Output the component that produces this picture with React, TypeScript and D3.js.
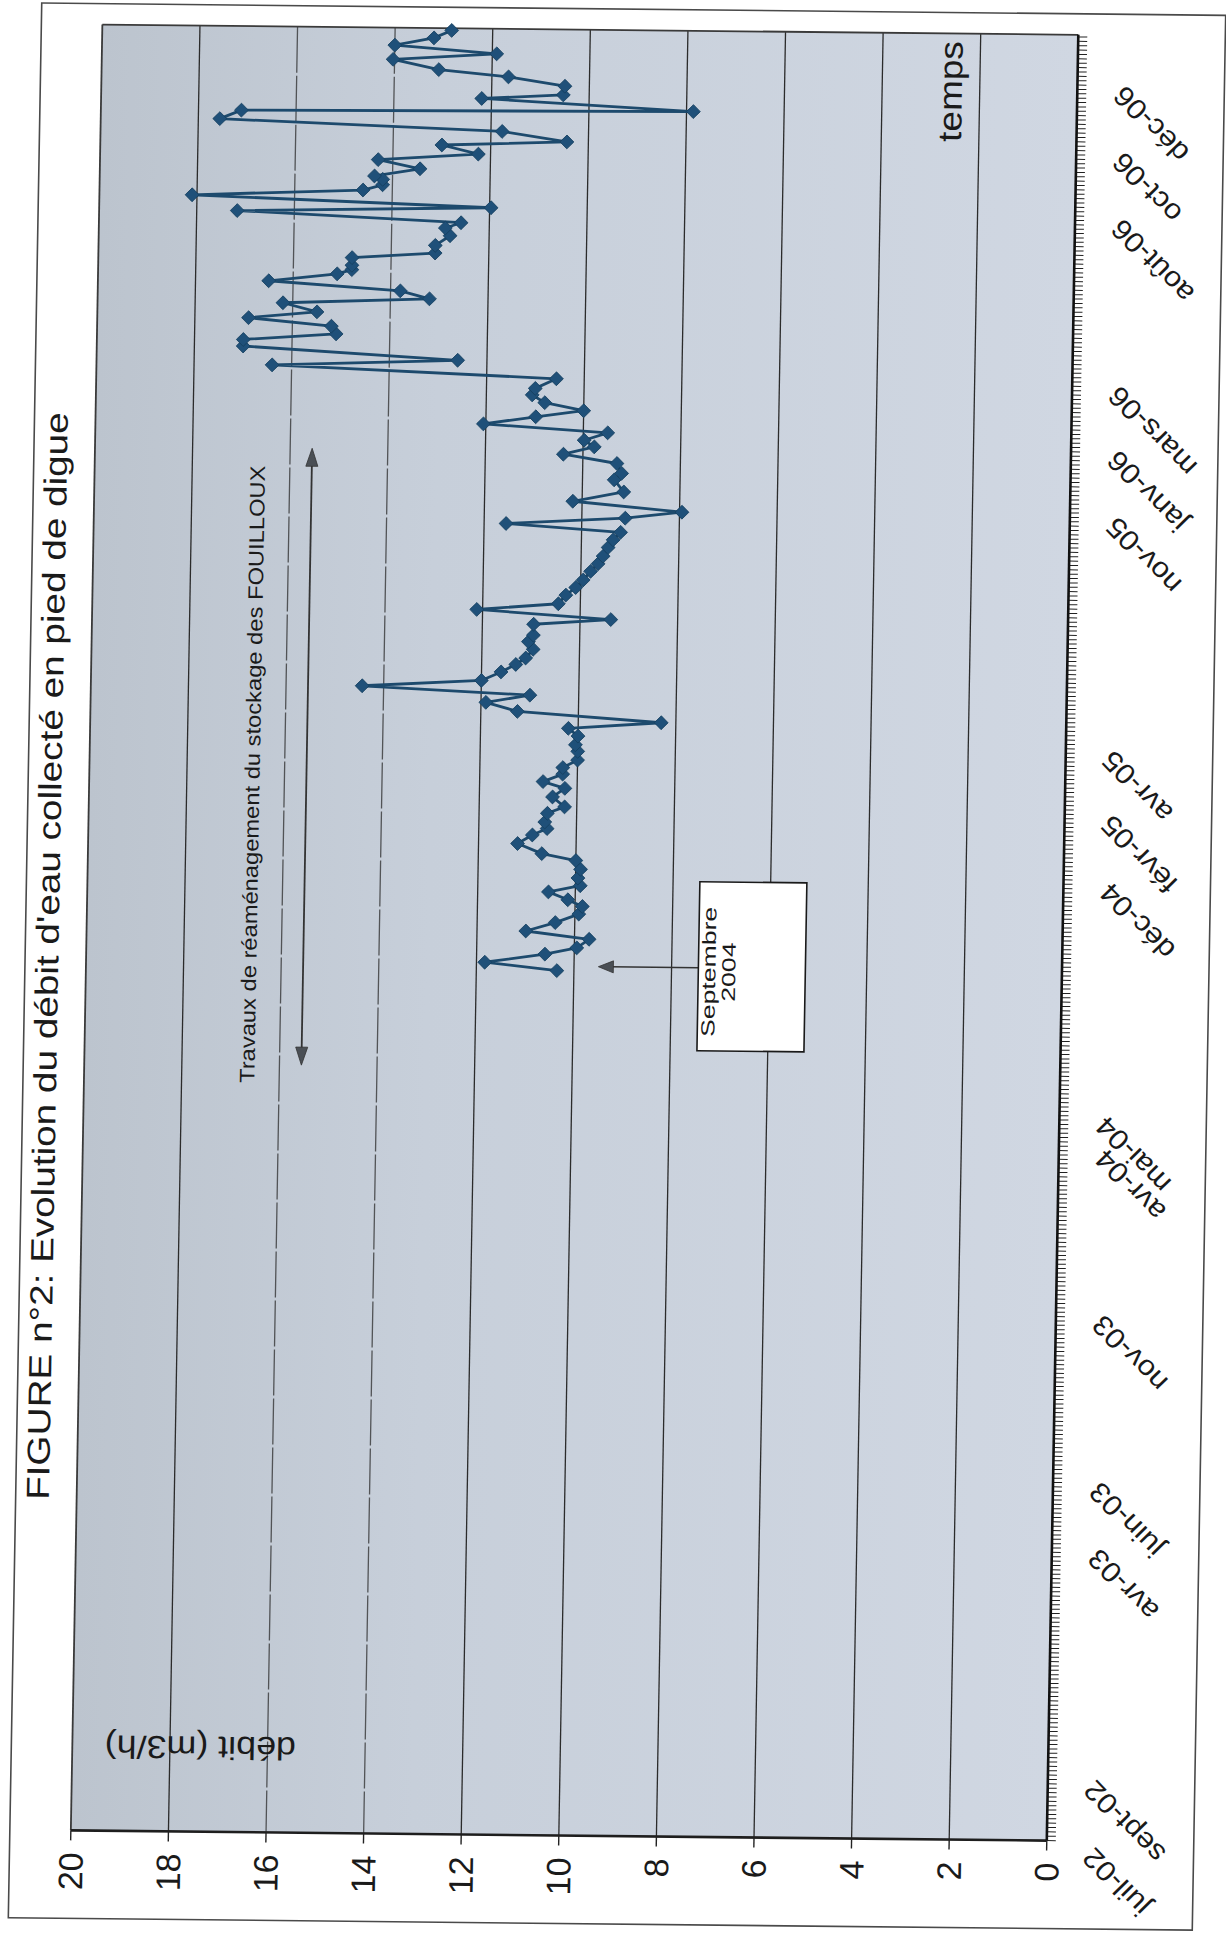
import React, { useRef, useEffect } from "react";
import * as d3 from "d3";

// weekly readings
const measureDates = [
  "2004-08-31", "2004-09-07", "2004-09-15", "2004-09-21", "2004-09-29", "2004-10-06", "2004-10-14", "2004-10-22",
  "2004-10-29", "2004-11-04", "2004-11-11", "2004-11-17", "2004-11-24", "2004-12-02", "2004-12-10", "2004-12-16",
  "2004-12-25", "2005-01-02", "2005-01-08", "2005-01-14", "2005-01-22", "2005-01-28", "2005-02-06", "2005-02-14",
  "2005-02-20", "2005-02-27", "2005-03-05", "2005-03-12", "2005-03-20", "2005-03-26", "2005-04-03", "2005-04-10",
  "2005-04-16", "2005-04-25", "2005-05-03", "2005-05-10", "2005-05-17", "2005-05-23", "2005-05-31", "2005-06-07",
  "2005-06-13", "2005-06-21", "2005-06-28", "2005-07-04", "2005-07-14", "2005-07-19", "2005-07-27", "2005-08-02",
  "2005-08-10", "2005-08-17", "2005-08-24", "2005-09-01", "2005-09-08", "2005-09-15", "2005-09-23", "2005-09-30",
  "2005-10-07", "2005-10-14", "2005-10-20", "2005-10-26", "2005-11-04", "2005-11-13", "2005-11-24", "2005-11-30",
  "2005-12-09", "2005-12-17", "2005-12-24", "2005-12-30", "2006-01-06", "2006-01-13", "2006-01-20", "2006-01-26",
  "2006-02-02", "2006-02-09", "2006-02-15", "2006-02-24", "2006-03-06", "2006-03-12", "2006-03-23", "2006-03-29",
  "2006-04-04", "2006-04-11", "2006-04-18", "2006-04-24", "2006-05-02", "2006-05-07", "2006-05-14", "2006-05-22",
  "2006-05-29", "2006-06-02", "2006-06-06", "2006-06-13", "2006-06-18", "2006-06-25", "2006-07-04", "2006-07-11",
  "2006-07-16", "2006-07-25", "2006-07-30", "2006-08-08", "2006-08-14", "2006-08-19", "2006-08-24", "2006-08-27",
  "2006-09-03", "2006-09-11", "2006-09-17", "2006-09-25", "2006-09-29", "2006-10-08", "2006-10-17", "2006-10-25",
  "2006-10-28", "2006-11-07", "2006-11-11", "2006-11-19", "2006-11-27", "2006-12-03", "2006-12-12", "2006-12-18",
  "2006-12-25", "2007-01-01", "2007-01-08",
];

const debit = [
  10.35, 11.83, 10.6, 9.95, 9.7, 11.0, 10.4, 9.92,
  9.85, 10.15, 10.55, 9.9, 9.95, 9.9, 10.0, 10.7,
  11.2, 10.9, 10.6, 10.65, 10.6, 10.25, 10.5, 10.25,
  10.7, 10.3, 10.3, 10.0, 10.0, 10.05, 10.0, 10.2,
  8.3, 11.25, 11.9, 11.0, 14.44, 12.0, 11.6, 11.3,
  11.1, 10.95, 11.05, 10.95, 10.95, 9.37, 12.12, 10.45,
  10.3, 10.1, 9.95, 9.8, 9.65, 9.55, 9.45, 9.35,
  9.2, 11.55, 9.11, 7.95, 10.19, 9.15, 9.35, 9.2,
  9.3, 10.4, 9.77, 9.98, 9.5, 12.05, 10.98, 10.0,
  10.8, 11.06, 11.0, 10.57, 16.4, 12.6, 17.0, 17.0,
  15.1, 15.2, 16.9, 15.5, 16.2, 13.2, 13.8, 16.5,
  15.1, 14.8, 14.8, 14.8, 13.1, 13.1, 12.8, 12.9,
  12.58, 17.17, 11.97, 18.1, 14.6, 14.2, 14.2, 14.37,
  13.44, 14.3, 12.25, 13.0, 10.44, 11.77, 17.56, 17.12,
  7.86, 12.2, 10.53, 10.5, 11.66, 13.09, 14.03, 11.91,
  14.0, 13.2, 12.84,
];

const axisDates = [
  "2002-07-01", "2002-09-01", "2003-04-01", "2003-06-01", "2003-11-01", "2004-04-01", "2004-05-01", "2004-12-01",
  "2005-02-01", "2005-04-01", "2005-11-01", "2006-01-01", "2006-03-01", "2006-08-01", "2006-10-01", "2006-12-01",
];
const axisLabels = [
  "juil-02", "sept-02", "avr-03", "juin-03", "nov-03", "avr-04", "mai-04", "déc-04",
  "févr-05", "avr-05", "nov-05", "janv-06", "mars-06", "août-06", "oct-06", "déc-06",
];
const debitTicks = [0, 2, 4, 6, 8, 10, 12, 14, 16, 18, 20];

const timeStart = "2002-07-01";
const timeEnd = "2007-01-10";

// annotations
const travauxFrom = "2004-06-03";
const travauxTo = "2005-12-20";
const travauxLevel = 15.55;
const septDate = "2004-09-04";
const septLevel = 9.5;

const FONT = "'Liberation Sans', Arial, Helvetica, sans-serif";
const INK = "#1d4a6d";

function txt(g: any, x: number, y: number, angle: number, s: string, size: number, stretch = 1.12) {
  return g.append("text")
    .attr("transform", `translate(${x},${y}) rotate(${angle}) scale(${stretch},1)`)
    .attr("font-family", FONT)
    .attr("font-size", size)
    .attr("fill", "#1a1a1a")
    .text(s);
}

export default function App() {
  const ref = useRef(null);

  useEffect(() => {
    if (!ref.current) return;
    const svg = d3.select(ref.current);
    svg.selectAll("*").remove();

    const parse = d3.timeParse("%Y-%m-%d");

    const defs = svg.append("defs");
    const grad = defs.append("linearGradient").attr("id", "plotbg").attr("x1", "0").attr("x2", "1").attr("y1", "0").attr("y2", "0");
    grad.append("stop").attr("offset", "0%").attr("stop-color", "#bcc4ce");
    grad.append("stop").attr("offset", "35%").attr("stop-color", "#c7cfda");
    grad.append("stop").attr("offset", "100%").attr("stop-color", "#d0d7e2");

    svg.append("rect").attr("width", 1226).attr("height", 1933).attr("fill", "#ffffff");

    // the scan is slightly tilted
    const page = svg.append("g")
      .attr("transform", "translate(613,966) rotate(0.6) skewX(-0.4) translate(-613,-966)");

    page.append("rect")
      .attr("x", 25).attr("y", 9).attr("width", 1184).attr("height", 1915)
      .attr("fill", "none").attr("stroke", "#4a4a4a").attr("stroke-width", 1.6);

    const x = d3.scaleLinear().domain([0, 20]).range([1062, 86]);
    const y = d3.scaleTime().domain([parse(timeStart)!, parse(timeEnd)!]).range([1836, 30]);

    const [yBot, yTop] = y.range();

    page.append("rect")
      .attr("x", x(20)).attr("y", yTop)
      .attr("width", x(0) - x(20)).attr("height", yBot - yTop)
      .attr("fill", "url(#plotbg)");

    // gridlines
    page.append("g").selectAll("line")
      .data(debitTicks.filter(v => v > 0 && v < 20))
      .join("line")
      .attr("x1", d => x(d)).attr("x2", d => x(d))
      .attr("y1", yTop).attr("y2", yBot)
      .attr("stroke", "#2b2b2b").attr("stroke-width", 1.3)
      .attr("stroke-opacity", d => (d === 14 || d === 16 ? 0.75 : 1))
      .attr("stroke-dasharray", d => (d === 14 || d === 16 ? "46 3" : null));

    // plot border
    page.append("line").attr("x1", x(20)).attr("x2", x(0)).attr("y1", yTop).attr("y2", yTop)
      .attr("stroke", "#3a3a3a").attr("stroke-width", 1.8);
    page.append("line").attr("x1", x(20)).attr("x2", x(20)).attr("y1", yTop).attr("y2", yBot)
      .attr("stroke", "#3a3a3a").attr("stroke-width", 1.8);

    // value axis (bottom of page)
    page.append("line").attr("x1", x(20)).attr("x2", x(0)).attr("y1", yBot).attr("y2", yBot)
      .attr("stroke", "#1e1e1e").attr("stroke-width", 2.6);
    page.append("g").selectAll("line")
      .data(debitTicks)
      .join("line")
      .attr("x1", d => x(d)).attr("x2", d => x(d))
      .attr("y1", yBot).attr("y2", yBot + 10)
      .attr("stroke", "#222").attr("stroke-width", 1.4);
    debitTicks.forEach(v => {
      txt(page, x(v), yBot + 22, -90, String(v), 34, 1)
        .attr("text-anchor", "end").attr("dy", "0.36em");
    });

    // time axis (right of page)
    const t0 = y.domain()[0].getTime();
    const t1 = y.domain()[1].getTime();
    page.append("g").selectAll("line")
      .data(d3.range(t0, t1, 4 * 864e5))
      .join("line")
      .attr("x1", x(0)).attr("x2", x(0) + 9)
      .attr("y1", d => y(new Date(d))).attr("y2", d => y(new Date(d)))
      .attr("stroke", "#222").attr("stroke-width", 1);
    page.append("line").attr("x1", x(0)).attr("x2", x(0)).attr("y1", yTop).attr("y2", yBot)
      .attr("stroke", "#111").attr("stroke-width", 2.6);
    axisDates.forEach((d, i) => {
      txt(page, x(0) + 48, y(parse(d)!) + 5, -135, axisLabels[i], 28, 1.1)
        .attr("text-anchor", "end");
    });

    // series
    const pts = measureDates.map((d, i) => [y(parse(d)!), x(debit[i])] as [number, number]);
    const line = d3.line<[number, number]>().x(p => p[1]).y(p => p[0]);
    page.append("path")
      .attr("d", line(pts))
      .attr("fill", "none").attr("stroke", INK).attr("stroke-width", 2.8)
      .attr("stroke-linejoin", "round");
    const diamond = d3.symbol().type(d3.symbolSquare).size(96)();
    page.append("g").selectAll("path")
      .data(pts)
      .join("path")
      .attr("d", diamond)
      .attr("transform", p => `translate(${p[1]},${p[0]}) rotate(45)`)
      .attr("fill", "#1f5079").attr("stroke", "#15405f").attr("stroke-width", 0.8);

    // travaux double arrow
    const ax = x(travauxLevel);
    const ay1 = y(parse(travauxTo)!);
    const ay2 = y(parse(travauxFrom)!);
    page.append("line").attr("x1", ax).attr("x2", ax).attr("y1", ay1 + 14).attr("y2", ay2 - 14)
      .attr("stroke", "#333").attr("stroke-width", 1.8);
    page.append("path")
      .attr("d", `M${ax},${ay1} L${ax - 6},${ay1 + 18} L${ax + 6},${ay1 + 18} Z`)
      .attr("fill", "#4a4f55").attr("stroke", "#333").attr("stroke-width", 0.8);
    page.append("path")
      .attr("d", `M${ax},${ay2} L${ax - 6},${ay2 - 18} L${ax + 6},${ay2 - 18} Z`)
      .attr("fill", "#4a4f55").attr("stroke", "#333").attr("stroke-width", 0.8);
    txt(page, 249, 778, -90, "Travaux de réaménagement du stockage des FOUILLOUX", 21, 1.13)
      .attr("text-anchor", "middle").attr("dy", "0.35em");

    // Septembre 2004 callout
    const sx = x(septLevel);
    const sy = y(parse(septDate)!);
    page.append("line").attr("x1", sx + 12).attr("x2", sx + 100).attr("y1", sy).attr("y2", sy)
      .attr("stroke", "#333").attr("stroke-width", 1.6);
    page.append("path")
      .attr("d", `M${sx},${sy} L${sx + 15},${sy - 6} L${sx + 15},${sy + 6} Z`)
      .attr("fill", "#4a4f55").attr("stroke", "#333").attr("stroke-width", 0.8);
    page.append("rect")
      .attr("x", sx + 100).attr("y", sy - 86).attr("width", 107).attr("height", 169)
      .attr("fill", "#ffffff").attr("stroke", "#1a1a1a").attr("stroke-width", 1.6);
    txt(page, sx + 117, sy + 4, -90, "Septembre", 19, 1.4).attr("text-anchor", "middle");
    txt(page, sx + 137, sy + 4, -90, "2004", 19, 1.4).attr("text-anchor", "middle");

    // axis titles and figure title
    txt(page, 935, 88, -90, "temps", 33, 1.12).attr("text-anchor", "middle").attr("dy", "0.35em");
    txt(page, 214, 1752, 180, "débit (m3/h)", 32, 1.12).attr("text-anchor", "middle").attr("dy", "0.35em");
    txt(page, 47, 962, -90, "FIGURE n°2: Evolution du débit d'eau collecté en pied de digue", 32, 1.21)
      .attr("text-anchor", "middle").attr("dy", "0.35em");
  }, []);

  return (
    <svg
      ref={ref}
      width={1226}
      height={1933}
      style={{ position: "absolute", left: 0, top: 0, display: "block" }}
    />
  );
}
